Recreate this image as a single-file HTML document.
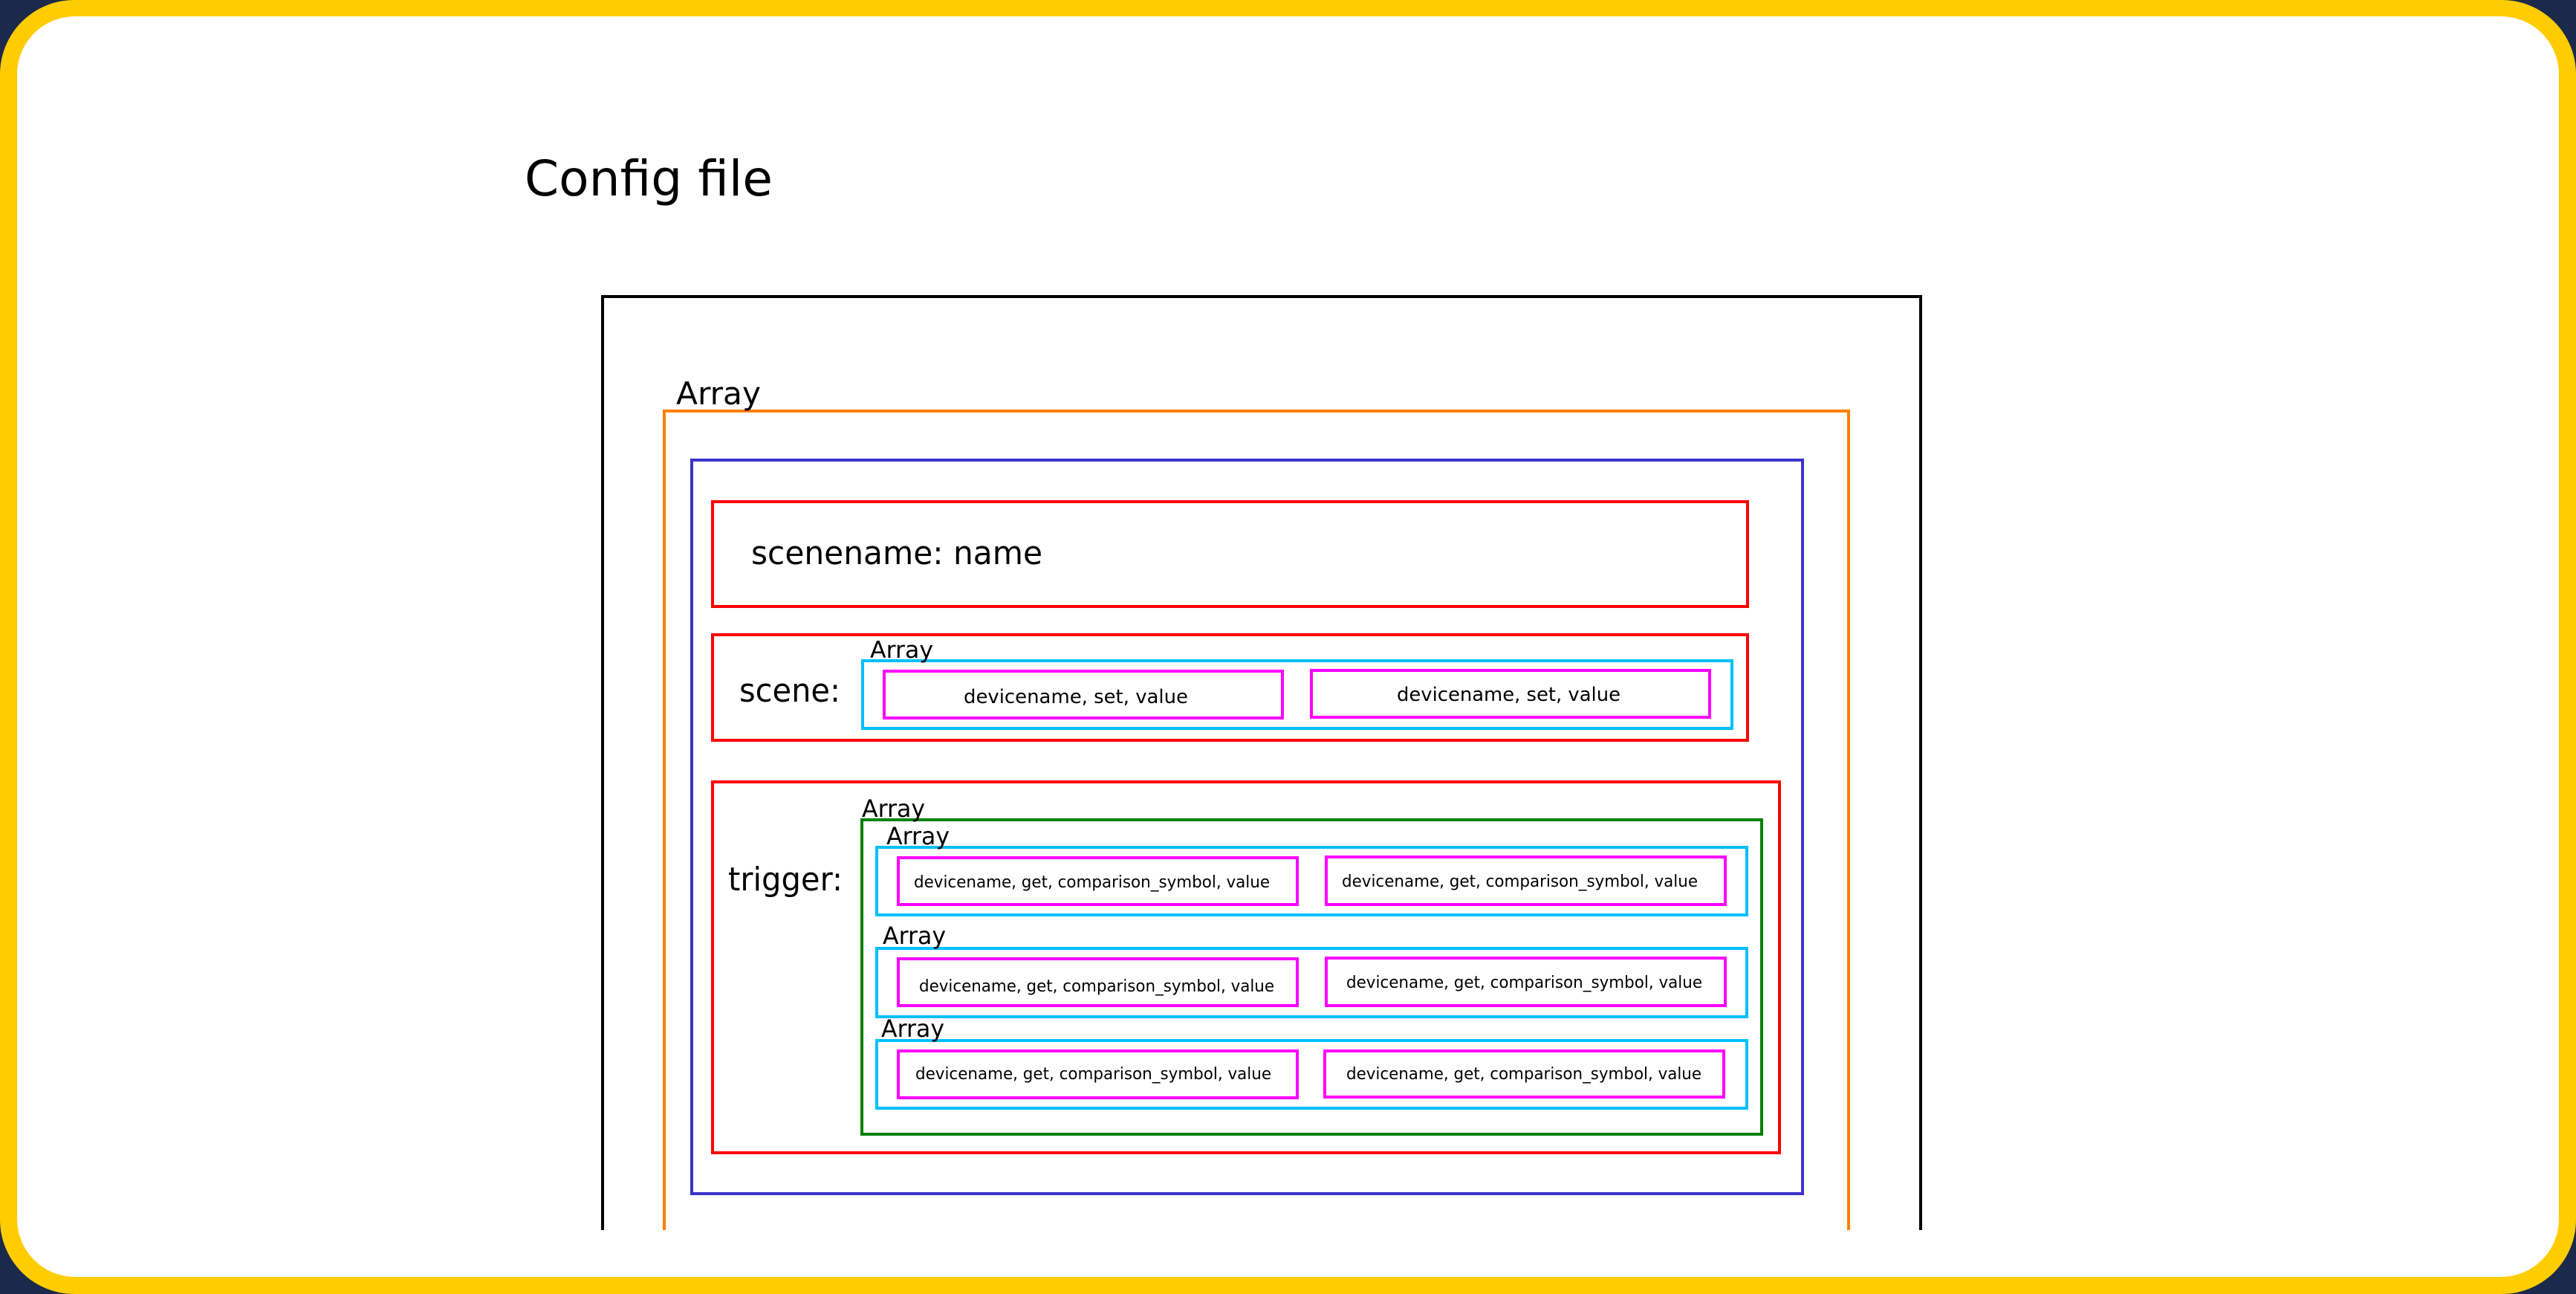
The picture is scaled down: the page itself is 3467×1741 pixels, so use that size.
<!DOCTYPE html>
<html><head><meta charset="utf-8"><style>
html,body{margin:0;padding:0;background:#1b2a4a;}
svg{display:block}
text{font-family:"DejaVu Sans","Liberation Sans",sans-serif;fill:#000}
</style></head><body>
<svg width="3467" height="1741" viewBox="0 0 3467 1741" xmlns="http://www.w3.org/2000/svg">
<rect x="0" y="0" width="3467" height="1741" fill="#1b2a4a"/>
<rect x="0" y="0" width="3467" height="1741" rx="100" ry="100" fill="#ffcc00"/>
<rect x="23" y="22" width="3421" height="1696" rx="78" ry="78" fill="#fff"/>
<text x="706" y="263" font-size="66" textLength="334" lengthAdjust="spacingAndGlyphs">Config file</text>
<g fill="none" stroke-width="4">
<polyline points="811,1655 811,399 2585,399 2585,1655" stroke="#000"/>
<polyline points="894,1655 894,553 2488,553 2488,1655" stroke="#ff8000"/>
<rect x="931" y="619" width="1495" height="987" stroke="#3a35cc"/>
<rect x="959" y="675" width="1393" height="141" stroke="#ff0000"/>
<rect x="959" y="854" width="1393" height="142" stroke="#ff0000"/>
<rect x="959" y="1052" width="1436" height="499" stroke="#ff0000"/>
<rect x="1161" y="889" width="1170" height="91" stroke="#00bfff"/>
<rect x="1190" y="903" width="536" height="63" stroke="#ff00ff"/>
<rect x="1765" y="902" width="536" height="63" stroke="#ff00ff"/>
<rect x="1160" y="1103" width="1211" height="423" stroke="#008000"/>
<rect x="1180" y="1140" width="1171" height="91" stroke="#00bfff"/>
<rect x="1180" y="1276" width="1171" height="92" stroke="#00bfff"/>
<rect x="1180" y="1400" width="1171" height="91" stroke="#00bfff"/>
<rect x="1209" y="1154" width="537" height="63" stroke="#ff00ff"/>
<rect x="1785" y="1153" width="537" height="64" stroke="#ff00ff"/>
<rect x="1209" y="1290" width="537" height="63" stroke="#ff00ff"/>
<rect x="1785" y="1289" width="537" height="64" stroke="#ff00ff"/>
<rect x="1209" y="1414" width="537" height="63" stroke="#ff00ff"/>
<rect x="1783" y="1414" width="537" height="62" stroke="#ff00ff"/>
</g>
<text x="910" y="544" font-size="42" textLength="114" lengthAdjust="spacingAndGlyphs">Array</text>
<text x="1011" y="759" font-size="44" textLength="392" lengthAdjust="spacingAndGlyphs">scenename: name</text>
<text x="995" y="944" font-size="44" textLength="136" lengthAdjust="spacingAndGlyphs">scene:</text>
<text x="1171" y="885" font-size="31" textLength="85" lengthAdjust="spacingAndGlyphs">Array</text>
<text x="1297" y="946" font-size="26" textLength="302" lengthAdjust="spacingAndGlyphs">devicename, set, value</text>
<text x="1880" y="943" font-size="26" textLength="301" lengthAdjust="spacingAndGlyphs">devicename, set, value</text>
<text x="980" y="1198" font-size="44" textLength="154" lengthAdjust="spacingAndGlyphs">trigger:</text>
<text x="1160" y="1099" font-size="32" textLength="85" lengthAdjust="spacingAndGlyphs">Array</text>
<text x="1193" y="1136" font-size="32" textLength="85" lengthAdjust="spacingAndGlyphs">Array</text>
<text x="1188" y="1270" font-size="32" textLength="85" lengthAdjust="spacingAndGlyphs">Array</text>
<text x="1186" y="1395" font-size="32" textLength="85" lengthAdjust="spacingAndGlyphs">Array</text>
<g font-size="22">
<text x="1230" y="1194" textLength="479" lengthAdjust="spacingAndGlyphs">devicename, get, comparison_symbol, value</text>
<text x="1806" y="1193" textLength="479" lengthAdjust="spacingAndGlyphs">devicename, get, comparison_symbol, value</text>
<text x="1237" y="1334" textLength="478" lengthAdjust="spacingAndGlyphs">devicename, get, comparison_symbol, value</text>
<text x="1812" y="1329" textLength="479" lengthAdjust="spacingAndGlyphs">devicename, get, comparison_symbol, value</text>
<text x="1232" y="1452" textLength="479" lengthAdjust="spacingAndGlyphs">devicename, get, comparison_symbol, value</text>
<text x="1812" y="1452" textLength="478" lengthAdjust="spacingAndGlyphs">devicename, get, comparison_symbol, value</text>
</g>
</svg>
</body></html>
